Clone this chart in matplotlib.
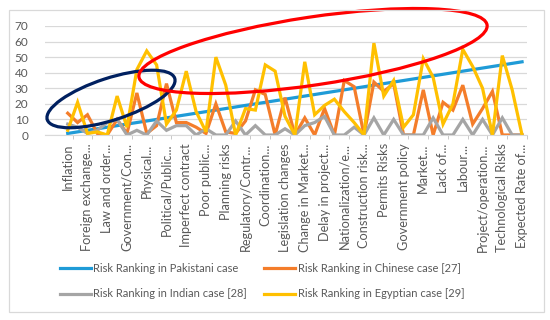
import matplotlib
matplotlib.use("Agg")
import matplotlib.pyplot as plt
from matplotlib.patches import Ellipse, Rectangle
from matplotlib.transforms import IdentityTransform

# risk factors (only every second name is shown on the axis)
risks = [
    "Inflation", "Interest rate", "Foreign exchange...", "Corruption",
    "Law and order...", "Terrorism", "Government/Con...", "Tax rate change",
    "Physical...", "Land acquisition", "Political/Public...", "Financial risk",
    "Imperfect contract", "Design changes", "Poor public...", "Force majeure",
    "Planning risks", "Contractor failure", "Regulatory/Contr...", "Public opposition",
    "Coordination...", "Cost overrun", "Legislation changes", "Site conditions",
    "Change in Market...", "Environmental risk", "Delay in project...", "Third party risk",
    "Nationalization/e...", "Credit risk", "Construction risk...", "Operation cost",
    "Permits Risks", "Quality risk", "Government policy", "Demand risk",
    "Market...", "Supply risk", "Lack of...", "Weather risk",
    "Labour...", "Residual value", "Project/operation...", "Insurance risk",
    "Technological Risks", "Legal risk", "Expected Rate of...",
]
pakistani = [1, 2, 3, 4, 5, 6, 7, 8, 9, 10, 11, 12, 13, 14, 15, 16, 17, 18, 19, 20,
             21, 22, 23, 24, 25, 26, 27, 28, 29, 30, 31, 32, 33, 34, 35, 36, 37, 38,
             39, 40, 41, 42, 43, 44, 45, 46, 47]
chinese = [14, 8, 13, 1, 0, 10, 1, 27, 1, 6, 33, 8, 8, 5, 1, 20, 2, 1, 9, 29,
           26, 0, 24, 0, 11, 0, 17, 0, 35, 31, 0, 34, 28, 33, 0, 0, 29, 0, 21, 16,
           32, 7, 17, 28, 0, 0, 0]
indian = [7, 5, 1, 3, 8, 10, 0, 3, 0, 9, 3, 6, 6, 0, 4, 0, 0, 9, 0, 6,
          0, 0, 4, 0, 6, 8, 12, 0, 0, 5, 0, 11, 0, 10, 0, 0, 0, 11, 0, 0,
          10, 0, 10, 0, 11, 0, 0]
egyptian = [3, 21, 1, 2, 0, 25, 5, 42, 54, 45, 7, 16, 41, 15, 2, 50, 32, 0, 17, 16,
            45, 41, 12, 0, 47, 13, 19, 23, 15, 8, 0, 59, 25, 35, 5, 13, 49, 37, 7, 20,
            55, 44, 30, 0, 51, 29, 0]

series = [
    ("Risk Ranking in Pakistani case", pakistani, "#1F9BD7"),
    ("Risk Ranking in Chinese case [27]", chinese, "#F47D2A"),
    ("Risk Ranking in Indian case [28]", indian, "#A5A5A5"),
    ("Risk Ranking in Egyptian case [29]", egyptian, "#FFC000"),
]

plt.rcParams["font.family"] = ["Lato", "DejaVu Sans"]
txt_color = "#595959"

fig = plt.figure(figsize=(5.5, 3.2), dpi=100)
ax = fig.add_axes([45 / 550, 1 - 135 / 320, 482 / 550, 109 / 320])

x = list(range(1, len(risks) + 1))
handles = {}
for name, vals, col in series:
    ln, = ax.plot(x, vals, color=col, lw=2.3, solid_joinstyle="miter", label=name)
    handles[name] = ln

ax.set_ylim(0, 70)
ax.set_xlim(-1.3, 47.2)
ax.set_yticks(range(0, 71, 10))
ax.grid(axis="y", color="#D9D9D9", lw=0.9)
ax.set_axisbelow(True)
for s in ["top", "right", "left"]:
    ax.spines[s].set_visible(False)
ax.spines["bottom"].set_color("#D9D9D9")
ax.tick_params(axis="y", length=0, labelsize=8.5, labelcolor=txt_color, pad=12)

ax.set_xticks(x[::2])
ax.set_xticklabels(risks[::2], rotation=90, fontsize=9.2, color=txt_color)
ax.tick_params(axis="x", which="major", length=0, pad=6)
ax.set_xticks([i + 0.5 for i in range(1, 48, 2)], minor=True)
ax.tick_params(axis="x", which="minor", length=3, color="#BFBFBF")

# highlight ellipses drawn in pixel space
H = 320
fig.add_artist(Ellipse((111, H - 99), 134, 42, angle=18, fill=False,
                       ec="#002060", lw=2.3, transform=IdentityTransform()))
fig.add_artist(Ellipse((313, H - 51), 352, 68, angle=8.5, fill=False,
                       ec="#FF0000", lw=2.3, transform=IdentityTransform()))

# chart frame
fig.add_artist(Rectangle((9, H - 312), 535, 302, fill=False, ec="#D9D9D9",
                         lw=0.9, transform=IdentityTransform()))

order = [series[0][0], series[2][0], series[1][0], series[3][0]]
fig.legend([handles[n] for n in order], order, ncol=2, frameon=False,
           loc="upper left", bbox_to_anchor=(60 / 550, 1 - 263 / 320),
           fontsize=8, labelcolor=txt_color, handlelength=2.8,
           handletextpad=0.2, columnspacing=1.55, labelspacing=1.3,
           borderpad=0, borderaxespad=0)

fig.savefig("out.png", dpi=100)
